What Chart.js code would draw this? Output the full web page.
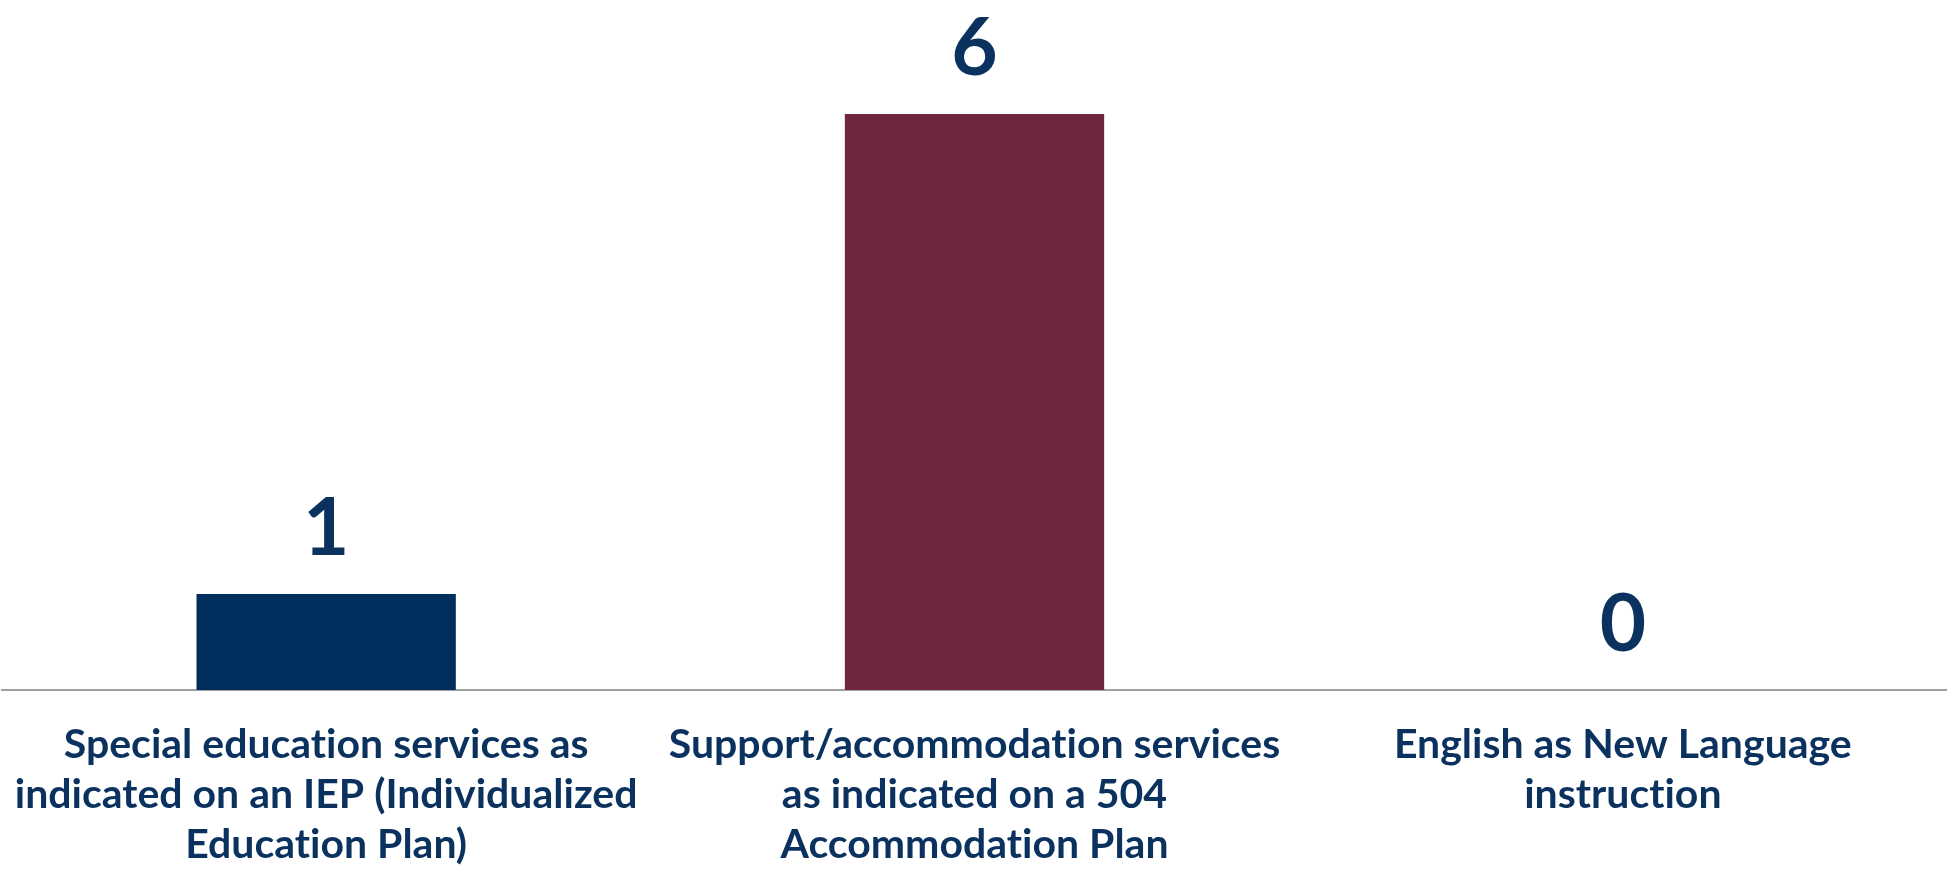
<!DOCTYPE html>
<html>
<head>
<meta charset="utf-8">
<script src="https://cdn.jsdelivr.net/npm/chart.js@4/dist/chart.umd.min.js"></script>
<style>
  html, body { margin: 0; padding: 0; background: #fff; }
  #wrap { width: 1947px; height: 871px; }
</style>
</head>
<body>
<div id="wrap"><canvas id="barChart"></canvas></div>
<script>
const categories = [
  ["Special education services as", "indicated on an IEP (Individualized", "Education Plan)"],
  ["Support/accommodation services", "as indicated on a 504", "Accommodation Plan"],
  ["English as New Language", "instruction"]
];
const counts = [1, 6, 0];
const barColors = ["#002F5E", "#6D283E", "#002F5E"];

const textColor = "#0B325F";

// draws the number above each bar
const valueLabels = {
  id: "valueLabels",
  afterDatasetsDraw(chart) {
    const ctx = chart.ctx;
    const meta = chart.getDatasetMeta(0);
    ctx.save();
    ctx.fillStyle = textColor;
    ctx.font = "bold 80px Lato";
    ctx.textAlign = "center";
    ctx.textBaseline = "alphabetic";
    meta.data.forEach((bar, i) => {
      ctx.fillText(String(counts[i]), bar.x, bar.y - 39);
    });
    ctx.restore();
  }
};

// Lato joins "ti" into a ligature, the original font doesn't
const noLig = (s) => s.replace(/ti/g, "t\u200Ci");

new Chart(document.getElementById("barChart").getContext("2d"), {
  type: "bar",
  data: {
    labels: categories,
    datasets: [{
      label: "Counts",
      data: counts,
      backgroundColor: barColors,
      barPercentage: 0.8,
      categoryPercentage: 0.5
    }]
  },
  options: {
    responsive: true,
    maintainAspectRatio: false,
    animation: false,
    layout: { padding: { top: 18, left: 2, right: 0, bottom: 0 } },
    plugins: {
      legend: { display: false },
      tooltip: { enabled: false }
    },
    scales: {
      x: {
        grid: { display: false, drawTicks: false },
        border: { display: true, color: "#A0A0A0", width: 2 },
        ticks: {
          color: textColor,
          font: { family: "Lato", size: 41, weight: "bold", lineHeight: 1.22 },
          padding: 30,
          maxRotation: 0,
          autoSkip: false,
          callback: function (value) {
            return this.getLabelForValue(value).map(noLig);
          }
        },
        afterFit: (s) => {
          s.height = 181;
          s.paddingLeft = 0;
          s.paddingRight = 0;
        }
      },
      y: {
        display: false,
        min: 0,
        max: 7
      }
    }
  },
  plugins: [valueLabels]
});
</script>
</body>
</html>
